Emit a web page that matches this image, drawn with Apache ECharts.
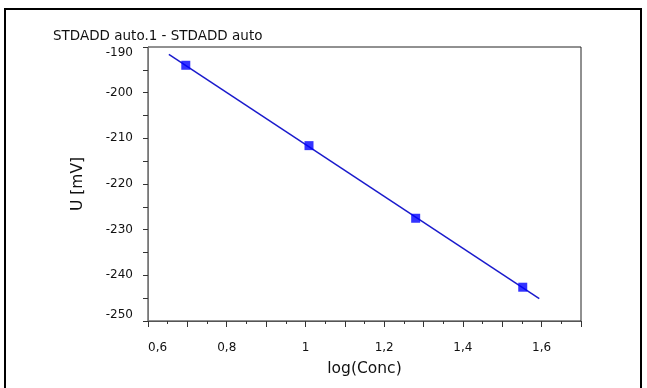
<!DOCTYPE html>
<html>
<head>
<meta charset="utf-8">
<title>STDADD auto.1 - STDADD auto</title>
<script src="https://cdn.jsdelivr.net/npm/echarts@6/dist/echarts.min.js"></script>
<style>
  html, body { margin: 0; padding: 0; background: #fff; }
  #chart { width: 647px; height: 388px; }
</style>
</head>
<body>
<div id="chart"></div>
<script>
// measured points: log(Conc) vs U [mV]
const logConc = [0.696, 1.009, 1.28, 1.552];
const potential = [-194.0, -211.6, -227.5, -242.6];

// regression line ends
const fitX = [0.653, 1.594];
const fitY = [-191.6, -245.1];

const xTicks = { min: 0.6, max: 1.7, step: 0.1 };
const yTicks = { min: -250, max: -190, step: 10 };

const chart = echarts.init(document.getElementById("chart"), null, { renderer: "canvas" });

const font = "DejaVu Sans";

const option = {
  backgroundColor: "#fff",
  animation: false,
  title: {
    text: "STDADD auto.1 - STDADD auto",
    left: 53,
    top: 29,
    padding: 0,
    textStyle: { fontFamily: font, fontSize: 13.5, fontWeight: "normal", color: "#111" },
  },
  graphic: [
    {
      type: "rect",
      shape: { x: 5, y: 9, width: 636, height: 400 },
      style: { fill: null, stroke: "#000", lineWidth: 2 },
      silent: true,
    },
  ],
  grid: {
    left: 148,
    top: 47,
    right: 66,
    bottom: 67,
    show: true,
    borderColor: "#222",
    borderWidth: 1,
  },
  xAxis: {
    type: "value",
    min: xTicks.min,
    max: xTicks.max,
    interval: xTicks.step,
    name: "log(Conc)",
    nameLocation: "middle",
    nameGap: 40,
    nameTextStyle: { fontFamily: font, fontSize: 15.5, color: "#111" },
    axisLine: { show: true, lineStyle: { color: "#555", width: 1 } },
    axisTick: { show: true, inside: false, length: 6, lineStyle: { color: "#333" } },
    minorTick: { show: true, splitNumber: 2, length: 3, lineStyle: { color: "#333" } },
    splitLine: { show: false },
    axisLabel: {
      fontFamily: font,
      fontSize: 12,
      color: "#111",
      margin: 21,
      alignMinLabel: "left",
      formatter: (v) => {
        const k = Math.round(v * 10);
        if (k % 2 !== 0) return "";
        return String(+(k / 10).toFixed(1)).replace(".", ",");
      },
    },
  },
  yAxis: {
    type: "value",
    min: yTicks.min,
    max: yTicks.max,
    interval: yTicks.step,
    name: "U [mV]",
    nameLocation: "middle",
    nameGap: 62,
    nameRotate: 90,
    nameTextStyle: { fontFamily: font, fontSize: 15.5, color: "#111" },
    axisLine: { show: true, lineStyle: { color: "#777", width: 1 } },
    axisTick: { show: true, inside: false, length: 5, lineStyle: { color: "#333" } },
    minorTick: { show: true, splitNumber: 2, length: 5, lineStyle: { color: "#333" } },
    splitLine: { show: false },
    axisLabel: {
      fontFamily: font,
      fontSize: 12,
      color: "#111",
      margin: 15,
      verticalAlignMaxLabel: "top",
      verticalAlignMinLabel: "bottom",
    },
  },
  series: [
    {
      name: "fit",
      type: "line",
      data: fitX.map((x, i) => [x, fitY[i]]),
      showSymbol: false,
      lineStyle: { color: "#1a1acc", width: 1.5 },
      z: 2,
    },
    {
      name: "U",
      type: "scatter",
      data: logConc.map((x, i) => [x, potential[i]]),
      symbol: "rect",
      symbolSize: 9,
      itemStyle: { color: "#0000ff" },
      z: 3,
    },
  ],
};

chart.setOption(option);
</script>
</body>
</html>
